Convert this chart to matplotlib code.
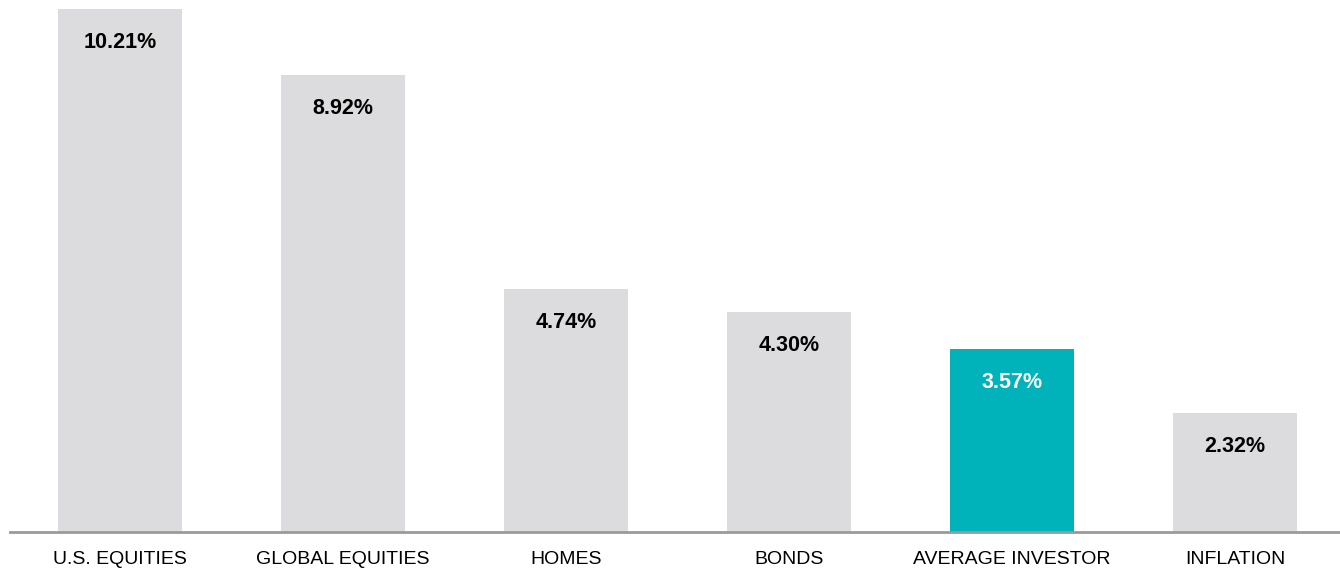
import matplotlib.pyplot as plt

categories = ['U.S. EQUITIES', 'GLOBAL EQUITIES', 'HOMES', 'BONDS', 'AVERAGE INVESTOR', 'INFLATION']
returns = [10.21, 8.92, 4.74, 4.30, 3.57, 2.32]
highlight = 'AVERAGE INVESTOR'

plt.rcParams['font.family'] = ['Liberation Sans', 'DejaVu Sans']

fig = plt.figure(figsize=(13.4, 5.71), dpi=100)
ax = fig.add_axes([10 / 1340, 39 / 571, 1330 / 1340, 532 / 571])

colors = ['#00b3ba' if c == highlight else '#dcdcde' for c in categories]
x = range(len(categories))
bars = ax.bar(x, returns, width=0.556, color=colors, zorder=2)

for b, v, c in zip(bars, returns, categories):
    tc = 'white' if c == highlight else 'black'
    ax.annotate(f'{v:.2f}%', (b.get_x() + b.get_width() / 2, v),
                xytext=(0, -24), textcoords='offset points',
                ha='center', va='center', fontsize=15.5, fontweight='bold', color=tc)

ax.set_xlim(-0.493, 5.471)
ax.set_ylim(0, 10.387)
ax.set_xticks(list(x))
ax.set_xticklabels(categories, fontsize=14)
ax.tick_params(axis='x', length=0, pad=14)
ax.set_yticks([])
for s in ['top', 'right', 'left']:
    ax.spines[s].set_visible(False)
ax.spines['bottom'].set_color('#9a9a9a')
ax.spines['bottom'].set_linewidth(2)

fig.savefig('out.png', dpi=100)
